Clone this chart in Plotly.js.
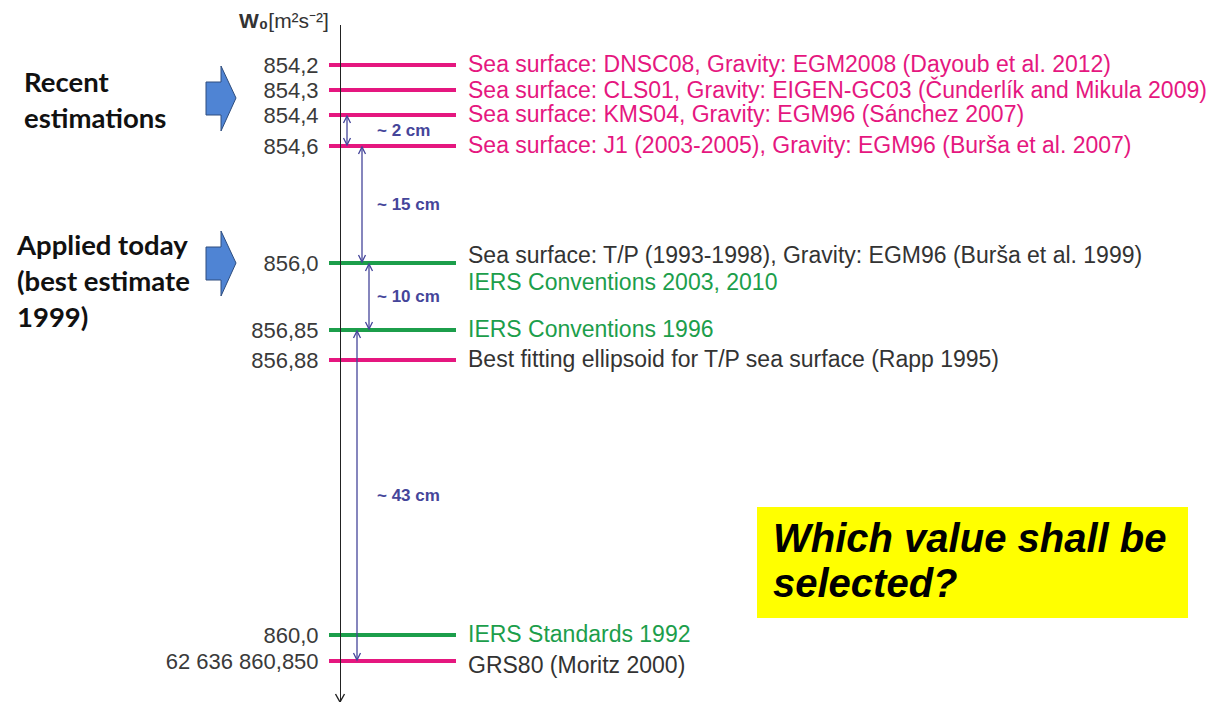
<!DOCTYPE html>
<html>
<head>
<meta charset="utf-8">
<script src="https://cdn.plot.ly/plotly-3.0.1.min.js"></script>
<style>html,body{margin:0;padding:0;background:#fff;}#chart{width:1226px;height:705px;}</style>
</head>
<body>
<div id="chart"></div>
<script>
// ---------------- DATA ----------------
// W0 levels (last digits of 62 636 8xx,xx m^2 s^-2)
const levels = [854.2, 854.3, 854.4, 854.6, 856.0, 856.85, 856.88, 860.0, 860.85];
const tickLabels = ['854,2', '854,3', '854,4', '854,6', '856,0', '856,85', '856,88', '860,0', '62 636 860,850'];
// position of each level along the schematic (non-linear) vertical axis
const levelPos = [65, 90, 115, 146, 263, 330, 360, 635, 661];
// group of each level line: 'm' = estimation (magenta), 'g' = IERS conventions/standards (green)
const levelGroup = ['m', 'm', 'm', 'm', 'g', 'g', 'm', 'g', 'm'];

// descriptions, the level they belong to and their group ('m' magenta, 'g' green, 'k' grey)
const descTexts = [
  'Sea surface: DNSC08, Gravity: EGM2008 (Dayoub et al. 2012)',
  'Sea surface: CLS01, Gravity: EIGEN-GC03 (Čunderlík and Mikula 2009)',
  'Sea surface: KMS04, Gravity: EGM96 (Sánchez 2007)',
  'Sea surface: J1 (2003-2005), Gravity: EGM96 (Burša et al. 2007)',
  'Sea surface: T/P (1993-1998), Gravity: EGM96 (Burša et al. 1999)',
  'IERS Conventions 2003, 2010',
  'IERS Conventions 1996',
  'Best fitting ellipsoid for T/P sea surface (Rapp 1995)',
  'IERS Standards 1992',
  'GRS80 (Moritz 2000)'
];
const descLevel = [0, 1, 2, 3, 4, 4, 5, 6, 7, 8];
const descGroup = ['m', 'm', 'm', 'm', 'k', 'g', 'g', 'k', 'g', 'k'];

// differences between levels (from level index, to level index)
const gapFrom = [2, 3, 4, 5];
const gapTo = [3, 4, 5, 8];
const gapLabels = ['~ 2 cm', '~ 15 cm', '~ 10 cm', '~ 43 cm'];

// side notes
const noteTexts = ['Recent<br>estimations', 'Applied today<br>(best estimate<br>1999)'];
const axisTitle = '<b>W₀</b>[m²s⁻²]';
const question = ['Which value shall be', 'selected?'];

// ---------------- STYLE ----------------
const colors = { m: '#e5177f', g: '#1c9e4b', k: '#333333' };
const gapColor = '#45459a';
const axisX = 340;
const axisBottom = 702;
const lineX0 = 329, lineX1 = 456, textX = 466;
const gapArrowX = [347, 362, 369, 357];
const gapTextX = 375;
const font = 'Liberation Sans, Arial, sans-serif';

const shapes = [];
const annotations = [];

// V-shaped arrow head path at (x, y) pointing up (dir = -1) or down (dir = +1)
function vHead(x, y, dir, w, h) {
  return `M${x - w},${y - dir * h} L${x},${y} L${x + w},${y - dir * h}`;
}

// level lines
levelPos.forEach((p, i) => {
  shapes.push({
    type: 'line', xref: 'x', yref: 'y', x0: lineX0, x1: lineX1, y0: p, y1: p,
    line: { color: colors[levelGroup[i]], width: 4 }, layer: 'below'
  });
});

// descriptions
const perLevelCount = {};
descLevel.forEach(l => { perLevelCount[l] = (perLevelCount[l] || 0) + 1; });
const seen = {};
descTexts.forEach((t, i) => {
  const l = descLevel[i];
  const k = seen[l] || 0; seen[l] = k + 1;
  let shift = 1;
  if (perLevelCount[l] === 2) shift = (k === 0) ? 8.5 : -18.5;
  if (l === 8) shift = -4;
  annotations.push({
    x: textX, y: levelPos[l], xref: 'x', yref: 'y', text: t, showarrow: false,
    xanchor: 'left', yanchor: 'middle', yshift: shift,
    font: { family: font, size: 23, color: colors[descGroup[i]] }
  });
});

// gap double arrows + labels
gapFrom.forEach((f, i) => {
  const y0 = levelPos[f], y1 = levelPos[gapTo[i]], x = gapArrowX[i];
  shapes.push({ type: 'line', xref: 'x', yref: 'y', x0: x, x1: x, y0: y0 + 1, y1: y1 - 1,
    line: { color: gapColor, width: 1.3 } });
  shapes.push({ type: 'path', xref: 'x', yref: 'y', path: vHead(x, y0 + 1, -1, 3.5, 7),
    line: { color: gapColor, width: 1.3 } });
  shapes.push({ type: 'path', xref: 'x', yref: 'y', path: vHead(x, y1 - 1, 1, 3.5, 7),
    line: { color: gapColor, width: 1.3 } });
  annotations.push({
    x: gapTextX, y: (y0 + y1) / 2, xref: 'x', yref: 'y', text: '<b>' + gapLabels[i] + '</b>', showarrow: false,
    xanchor: 'left', yanchor: 'middle', font: { family: font, size: 17, color: gapColor }
  });
});

// axis end arrow head
shapes.push({ type: 'path', xref: 'x', yref: 'y', path: vHead(axisX, axisBottom, 1, 4.5, 8),
  line: { color: '#222', width: 1.4 } });

// axis title (above the axis line)
annotations.push({
  x: 331, y: 1, xref: 'x', yref: 'paper', yshift: 5, text: axisTitle, showarrow: false,
  xanchor: 'right', yanchor: 'middle', font: { family: font, size: 21, color: '#333' }
});

// side notes with block arrows
const noteX = [22, 14];
const noteCenters = [99.5, 280];
const arrowCenters = [98, 263];
noteTexts.forEach((t, i) => {
  annotations.push({
    x: noteX[i], y: noteCenters[i], xref: 'x', yref: 'y', text: '<b>' + t + '</b>', showarrow: false,
    xanchor: 'left', yanchor: 'middle', align: 'left',
    font: { family: 'Lato, Carlito, Calibri, sans-serif', size: 27.5, color: '#111' }
  });
  const c = arrowCenters[i];
  shapes.push({
    type: 'path', xref: 'x', yref: 'y',
    path: `M206,${c - 16} L221,${c - 16} L221,${c - 32} L236,${c} L221,${c + 33} L221,${c + 17} L206,${c + 17} Z`,
    fillcolor: '#4f84d4', line: { color: '#2e4d7e', width: 1 }
  });
});

// question box
shapes.push({
  type: 'rect', xref: 'x', yref: 'y', x0: 757, x1: 1188, y0: 507, y1: 618,
  fillcolor: '#ffff00', line: { width: 0 }, layer: 'below'
});
annotations.push({
  x: 771, y: 538, xref: 'x', yref: 'y', text: '<b><i>' + question[0] + '</i></b>', showarrow: false,
  xanchor: 'left', yanchor: 'middle', font: { family: font, size: 40, color: '#000' }
});
annotations.push({
  x: 771, y: 583, xref: 'x', yref: 'y', text: '<b><i>' + question[1] + '</i></b>', showarrow: false,
  xanchor: 'left', yanchor: 'middle', font: { family: font, size: 40, color: '#000' }
});

const layout = {
  width: 1226, height: 705,
  margin: { l: 0, r: 0, t: 25, b: 3, pad: 0 },
  paper_bgcolor: '#fff', plot_bgcolor: '#fff',
  showlegend: false,
  xaxis: { range: [0, 1226], visible: false, fixedrange: true },
  yaxis: {
    range: [axisBottom, 25], anchor: 'free', position: axisX / 1226, fixedrange: true,
    showline: true, linecolor: '#222', linewidth: 1.4,
    showgrid: false, zeroline: false,
    tickmode: 'array', tickvals: levelPos, ticktext: tickLabels,
    ticks: 'outside', ticklen: 17, tickcolor: 'rgba(0,0,0,0)',
    tickfont: { family: font, size: 22, color: '#3a3a3a' }
  },
  shapes: shapes,
  annotations: annotations
};

// invisible trace carrying the levels on the axis
const trace = {
  x: levelPos.map(() => axisX), y: levelPos, customdata: levels,
  mode: 'markers', marker: { size: 1, opacity: 0 }, hoverinfo: 'skip', type: 'scatter'
};

Plotly.newPlot('chart', [trace], layout, { displayModeBar: false, staticPlot: true });
</script>
</body>
</html>
